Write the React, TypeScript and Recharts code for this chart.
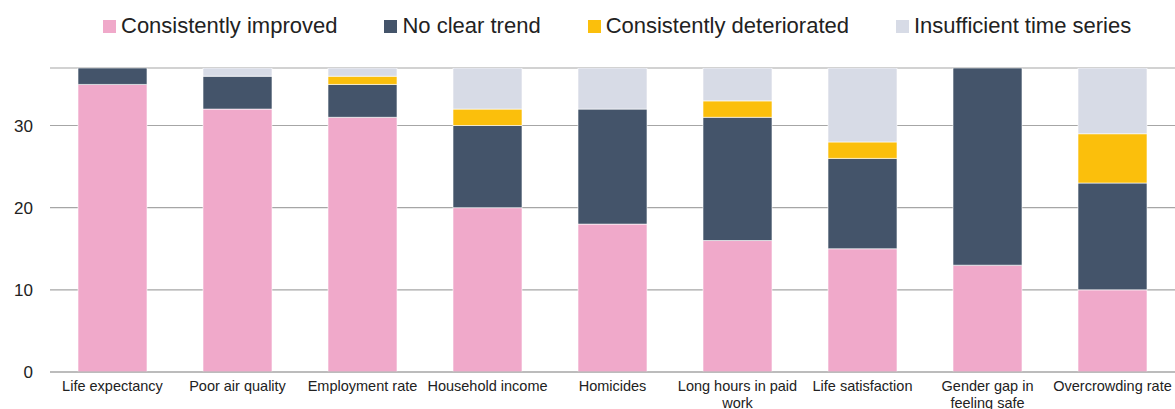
import React from 'react';
import { BarChart, Bar, XAxis, YAxis, CartesianGrid } from 'recharts';

const categories = [
  'Life expectancy',
  'Poor air quality',
  'Employment rate',
  'Household income',
  'Homicides',
  'Long hours in paid work',
  'Life satisfaction',
  'Gender gap in feeling safe',
  'Overcrowding rate',
];
const improved = [35, 32, 31, 20, 18, 16, 15, 13, 10];
const noTrend = [2, 4, 4, 10, 14, 15, 11, 24, 13];
const deteriorated = [0, 0, 1, 2, 0, 2, 2, 0, 6];
const insufficient = [0, 1, 1, 5, 5, 4, 9, 0, 8];
const yTicks = [0, 10, 20, 30];

const series = [
  { key: 'improved', label: 'Consistently improved', color: '#F0A9CA' },
  { key: 'noTrend', label: 'No clear trend', color: '#44546A' },
  { key: 'deteriorated', label: 'Consistently deteriorated', color: '#FBBF0C' },
  { key: 'insufficient', label: 'Insufficient time series', color: '#D7DBE6' },
];

const data = categories.map((name, i) => ({
  name,
  improved: improved[i],
  noTrend: noTrend[i],
  deteriorated: deteriorated[i],
  insufficient: insufficient[i],
}));

const FONT = '"Liberation Sans", Arial, Helvetica, sans-serif';
const TICK_FONT_SIZE = 14.5;
const WRAP_WIDTH = 128;

let ctx: CanvasRenderingContext2D | null = null;
function measure(text: string): number {
  if (!ctx) {
    const c = document.createElement('canvas');
    ctx = c.getContext('2d');
  }
  if (!ctx) return text.length * TICK_FONT_SIZE * 0.5;
  ctx.font = `${TICK_FONT_SIZE}px ${FONT}`;
  return ctx.measureText(text).width;
}

function wrap(text: string): string[] {
  const words = text.split(' ');
  const lines: string[] = [];
  let cur = '';
  words.forEach((w) => {
    const trial = cur ? cur + ' ' + w : w;
    if (cur && measure(trial) > WRAP_WIDTH) {
      lines.push(cur);
      cur = w;
    } else {
      cur = trial;
    }
  });
  if (cur) lines.push(cur);
  return lines;
}

const XTick = (props: any) => {
  const { x, y, payload } = props;
  const lines = wrap(String(payload.value));
  return (
    <text
      x={x}
      y={y}
      textAnchor="middle"
      style={{ fontSize: TICK_FONT_SIZE, fontFamily: FONT, fill: '#222' }}
    >
      {lines.map((l, i) => (
        <tspan key={i} x={x} dy={i === 0 ? 10.5 : 17}>
          {l}
        </tspan>
      ))}
    </text>
  );
};

export default function App() {
  return (
    <div style={{ position: 'absolute', left: 0, top: 0, width: 1175, height: 409, background: '#fff' }}>
      <div
        style={{
          position: 'absolute',
          top: 15,
          left: 0,
          width: 1175,
          display: 'flex',
          alignItems: 'center',
          paddingLeft: 103,
          boxSizing: 'border-box',
          fontFamily: FONT,
          fontSize: 22,
          lineHeight: '22px',
          color: '#222',
        }}
      >
        {series.map((s, i) => (
          <div key={s.key} style={{ display: 'flex', alignItems: 'center', marginRight: i < series.length - 1 ? 47 : 0 }}>
            <span style={{ display: 'inline-block', width: 13, height: 13, background: s.color, marginRight: 5 }} />
            <span>{s.label}</span>
          </div>
        ))}
      </div>
      <BarChart
        width={1175}
        height={409}
        data={data}
        margin={{ top: 68, right: 0, bottom: 0, left: 0 }}
        barSize={69}
        style={{ position: 'absolute', left: 0, top: 0 }}
      >
        <CartesianGrid vertical={false} stroke="#A6A6A6" strokeWidth={1.2} />
        <XAxis
          dataKey="name"
          interval={0}
          height={37}
          tickLine={false}
          axisLine={{ stroke: '#A6A6A6', strokeWidth: 1.2 }}
          tick={<XTick />}
        />
        <YAxis
          width={50}
          domain={[0, 37]}
          ticks={yTicks}
          allowDataOverflow
          tickLine={false}
          axisLine={false}
          tickMargin={11}
          tick={{ fontSize: 17, fontFamily: FONT, fill: '#222' }}
        />
        {series.map((s) => (
          <Bar
            key={s.key}
            dataKey={s.key}
            stackId="a"
            fill={s.color}
            stroke="#fff"
            strokeWidth={0.6}
            isAnimationActive={false}
          />
        ))}
      </BarChart>
    </div>
  );
}
